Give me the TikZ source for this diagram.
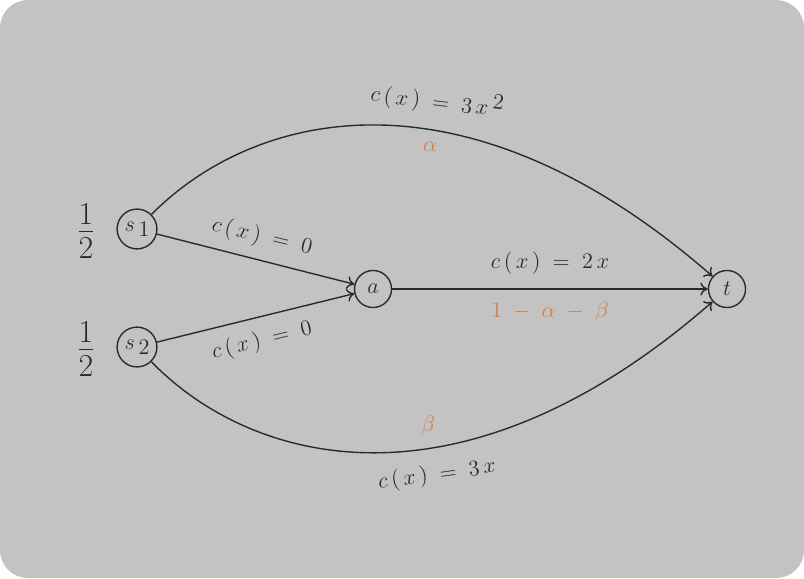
\documentclass[tikz,border=0pt]{standalone}
\usetikzlibrary{arrows.meta}
\definecolor{bg}{HTML}{C3C3C3}
\definecolor{ink}{HTML}{2A2A2A}
\definecolor{flow}{HTML}{D97A45}
\begin{document}
\begin{tikzpicture}[x=0.54pt,y=-0.54pt,
  vert/.style={circle,draw=ink,line width=0.75pt,minimum size=20pt,inner sep=0pt,text=ink,font=\large},
  src/.style={vert,minimum size=21.5pt},
  edge/.style={draw=ink,line width=0.75pt,-{To[length=4pt,width=7pt]}},
  cost/.style={text=ink,inner sep=0pt,font=\large},
  fl/.style={text=flow,inner sep=0pt,font=\large},
  frac/.style={text=ink,inner sep=0pt,font=\fontsize{23}{28}\selectfont}]
\useasboundingbox (0,0) rectangle (804,578);
\fill[bg,rounded corners=15pt] (0,0) rectangle (804,578);
\node[src] (s1) at (137,229) {\raisebox{1.5pt}{$s$}\,\raisebox{-1.5pt}{$1$}};
\node[src] (s2) at (137,347) {\raisebox{1.5pt}{$s$}\,\raisebox{-1.5pt}{$2$}};
\node[vert] (a) at (373,289) {$a$};
\node[vert] (t) at (727,289) {$t$};
\node[frac] (f1) at (86,231) {$\frac{1}{2}$};
\node[frac] (f2) at (86,349) {$\frac{1}{2}$};
\draw[edge] (s1) .. controls (255,110) and (465,60) .. (t);
\draw[edge] (s2) .. controls (255,468) and (465,518) .. (t);
\draw[edge] (s1) -- (a);
\draw[edge] (s2) -- (a);
\draw[edge] (a) -- (t);
\node[cost,rotate=-7] (l1) at (437,101) {$c\,(\,x\,)\;=\;3\,x\,$\raisebox{4pt}{$2$}};
\node[fl] (l2) at (430,147) {$\alpha$};
\node[cost,rotate=-13.6] (l3) at (262,237) {$c\,(\,x\,)\;=\;0$};
\node[cost,rotate=13.6] (l4) at (262,341) {$c\,(\,x\,)\;=\;0$};
\node[cost] (l5) at (550,263) {$c\,(\,x\,)\;=\;2\,x$};
\node[fl] (l6) at (550,312) {$1\;-\;\alpha\;-\;\beta$};
\node[fl] (l7) at (428,426) {$\beta$};
\node[cost,rotate=8] (l8) at (437,475) {$c\,(\,x\,)\;=\;3\,x$};
\end{tikzpicture}
\end{document}
